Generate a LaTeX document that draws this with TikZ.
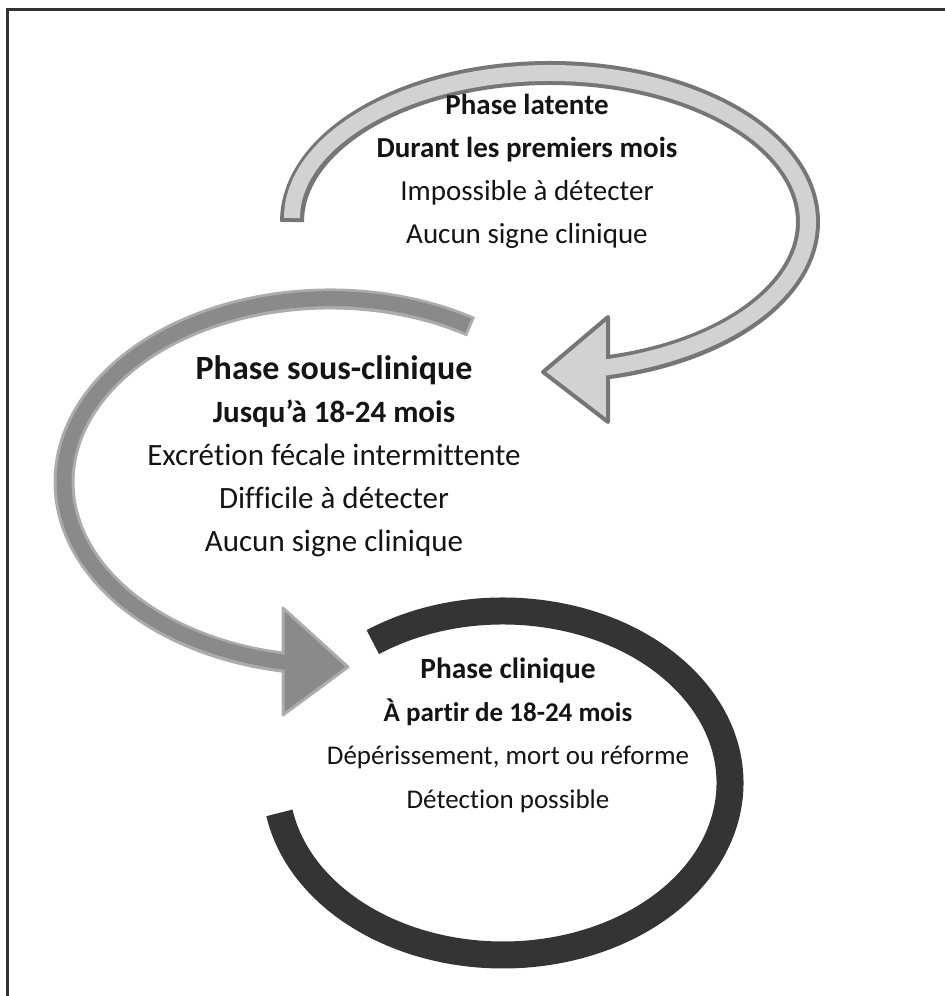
\documentclass[tikz,border=0pt]{standalone}
\usepackage{fontspec}
\setmainfont{Carlito}[Ligatures=NoCommon]
\usetikzlibrary{calc}

\definecolor{latentfill}{RGB}{210,210,210}
\definecolor{latentedge}{RGB}{118,118,118}
\definecolor{subfill}{RGB}{138,138,138}
\definecolor{subedge}{RGB}{172,172,172}
\definecolor{clinfill}{RGB}{52,52,52}
\definecolor{framegrey}{RGB}{50,50,50}

\begin{document}
\begin{tikzpicture}
    [
        x=0.5pt, y=0.5pt,
        phase_text/.style={align=center, inner sep=0pt, text=black!92},
        frame_line/.style={draw=framegrey, line width=1.35pt},
        latent_rim/.style={draw=latentedge, line width=12pt},
        latent_body/.style={draw=latentfill, line width=8pt},
        latent_head/.style={fill=latentfill, draw=latentedge, line width=2pt, line join=round},
        sub_rim/.style={draw=subedge, line width=10.5pt},
        sub_body/.style={draw=subfill, line width=7.5pt},
        sub_head/.style={fill=subfill, draw=subedge, line width=1.5pt, line join=round},
        clin_ring/.style={draw=clinfill, line width=13.5pt},
    ]
        \useasboundingbox (0,0) rectangle (945,996);
        \draw[frame_line] (7.2,-10) |- (960,986.3);

        % phase latente
        \coordinate (lat_tail) at (292,774);
        \draw[latent_rim] (lat_tail) arc[start angle=180, end angle=-77, x radius=258, y radius=149];
        \filldraw[latent_head] (608,679) -- (543,624) -- (608,574) -- cycle;
        \draw[latent_body, shorten <=2pt, shorten >=-3pt] (lat_tail) arc[start angle=180, end angle=-77, x radius=258, y radius=149];

        % phase sous-clinique
        \coordinate (sub_mid) at (330,514);
        \coordinate (sub_tail) at ($(sub_mid)+(58:266 and 183)$);
        \draw[sub_rim] (sub_tail) arc[start angle=58, end angle=260, x radius=266, y radius=183];
        \filldraw[sub_head] (283,388) -- (348,329) -- (283,281) -- cycle;
        \draw[sub_body, shorten <=1.5pt, shorten >=-3pt] (sub_tail) arc[start angle=58, end angle=260, x radius=266, y radius=183];

        % phase clinique
        \coordinate (clin_mid) at (503,213);
        \coordinate (clin_start) at ($(clin_mid)+(125:227 and 172)$);
        \draw[clin_ring] (clin_start) arc[start angle=125, end angle=-170, x radius=227, y radius=172];

        \node[phase_text, anchor=north, font=\fontsize{14.5}{21.5}\selectfont] (latente) at (527,902)
            {\textbf{Phase latente}\\ \textbf{Durant les premiers mois}\\ Impossible à détecter\\ Aucun signe clinique};
        \node[phase_text, anchor=north, font=\fontsize{15.5}{21.5}\selectfont] (sousclin) at (334,641)
            {{\fontsize{17}{21.5}\selectfont\bfseries Phase sous-clinique}\\ {\fontsize{15.5}{21.5}\selectfont\bfseries Jusqu’à 18-24 mois}\\ Excrétion fécale intermittente\\ Difficile à détecter\\ Aucun signe clinique};
        \node[phase_text, anchor=north, font=\fontsize{13.5}{21.7}\selectfont] (clinique) at (508,339)
            {{\fontsize{14.7}{21.7}\selectfont\bfseries Phase clinique}\\ \textbf{À partir de 18-24 mois}\\ Dépérissement, mort ou réforme\\ Détection possible};
\end{tikzpicture}
\end{document}
